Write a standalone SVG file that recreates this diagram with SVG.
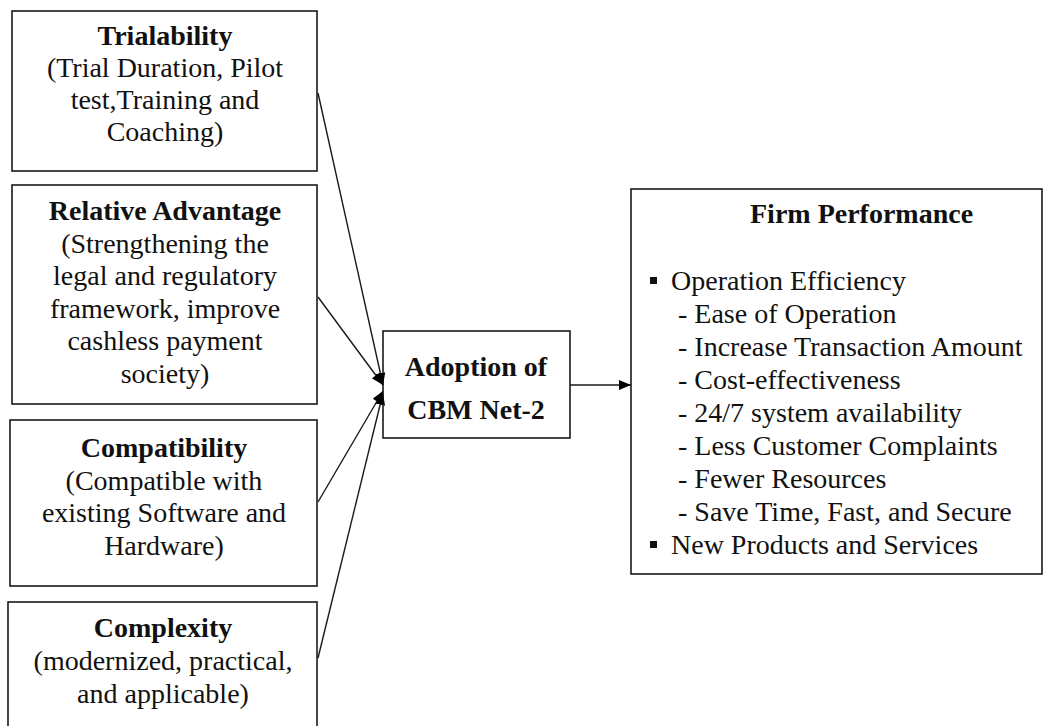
<svg xmlns="http://www.w3.org/2000/svg" width="1044" height="726" viewBox="0 0 1044 726">
<style>
.box{fill:#fff;stroke:#1a1a1a;stroke-width:1.6}
.t{font-family:"Liberation Serif","Times New Roman",serif;font-size:28px;fill:#111}
.c{text-anchor:middle}
.b{font-weight:bold}
.con{stroke:#1a1a1a;stroke-width:1.4;fill:none}
</style>
<defs>
<marker id="ah" markerUnits="userSpaceOnUse" markerWidth="14" markerHeight="12" refX="12" refY="5" orient="auto">
<path d="M0,0 L12,5 L0,10 Z" fill="#000"/>
</marker>
</defs>
<rect width="1044" height="726" fill="#fff"/>
<g id="trialability">
<rect class="box" x="12" y="11" width="305" height="160"/>
<text class="t c b" x="165" y="45">Trialability</text>
<text class="t c" x="165" y="77">(Trial Duration, Pilot</text>
<text class="t c" x="165" y="109">test,Training  and</text>
<text class="t c" x="165" y="141">Coaching)</text>
</g>
<g id="relative-advantage">
<rect class="box" x="12" y="185" width="305" height="219"/>
<text class="t c b" x="165" y="220">Relative Advantage</text>
<text class="t c" x="165" y="253">(Strengthening the</text>
<text class="t c" x="165" y="285">legal and regulatory</text>
<text class="t c" x="165" y="318">framework, improve</text>
<text class="t c" x="165" y="350">cashless payment</text>
<text class="t c" x="165" y="383">society)</text>
</g>
<g id="compatibility">
<rect class="box" x="10" y="420" width="307" height="166"/>
<text class="t c b" x="164" y="457">Compatibility</text>
<text class="t c" x="164" y="490">(Compatible with</text>
<text class="t c" x="164" y="522">existing Software and</text>
<text class="t c" x="164" y="555">Hardware)</text>
</g>
<g id="complexity">
<rect class="box" x="8" y="602" width="309" height="140"/>
<text class="t c b" x="163" y="637">Complexity</text>
<text class="t c" x="163" y="670">(modernized, practical,</text>
<text class="t c" x="163" y="703">and applicable)</text>
</g>
<g id="adoption">
<rect class="box" x="383" y="331" width="187" height="107"/>
<text class="t c b" x="476" y="376">Adoption of</text>
<text class="t c b" x="476" y="419">CBM Net-2</text>
</g>
<g id="firm-performance">
<rect class="box" x="631" y="189" width="411" height="385"/>
<text class="t b" x="750" y="223">Firm Performance</text>
<rect x="650" y="277" width="7" height="7" fill="#111"/>
<text class="t" x="671" y="290">Operation Efficiency</text>
<text class="t" x="678" y="323">- Ease of Operation</text>
<text class="t" x="678" y="356">- Increase Transaction Amount</text>
<text class="t" x="678" y="389">- Cost-effectiveness</text>
<text class="t" x="678" y="422">- 24/7 system availability</text>
<text class="t" x="678" y="455">- Less Customer Complaints</text>
<text class="t" x="678" y="488">- Fewer Resources</text>
<text class="t" x="678" y="521">- Save Time, Fast, and Secure</text>
<rect x="650" y="541" width="7" height="7" fill="#111"/>
<text class="t" x="671" y="554">New Products and Services</text>
</g>
<g id="connectors">
<line class="con" x1="318" y1="93" x2="383" y2="385" marker-end="url(#ah)"/>
<line class="con" x1="318" y1="297" x2="383" y2="385" marker-end="url(#ah)"/>
<line class="con" x1="318" y1="502" x2="383" y2="391" marker-end="url(#ah)"/>
<line class="con" x1="318" y1="658" x2="383" y2="393" marker-end="url(#ah)"/>
<line class="con" x1="570" y1="385" x2="631" y2="385" marker-end="url(#ah)"/>
</g>
</svg>
